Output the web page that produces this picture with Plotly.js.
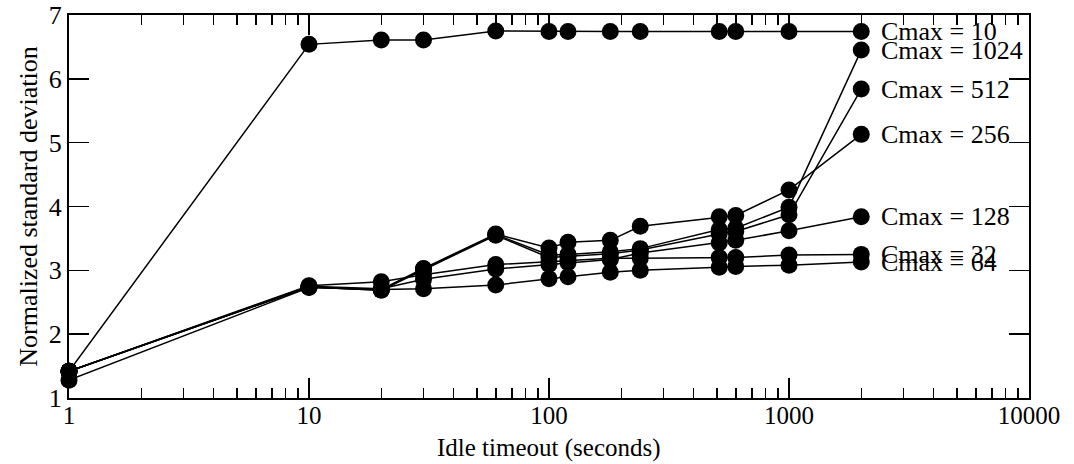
<!DOCTYPE html>
<html>
<head>
<meta charset="utf-8">
<script src="https://cdn.plot.ly/plotly-3.0.1.min.js"></script>
<style>html,body{margin:0;padding:0;background:#fff;}#chart{width:1074px;height:464px;}</style>
</head>
<body>
<div id="chart"></div>
<script>
// Idle timeout (seconds)
const idleTimeout = [1, 10, 20, 30, 60, 100, 120, 180, 240, 512, 600, 1000, 2000];

const seriesNames = ["Cmax = 10", "Cmax = 1024", "Cmax = 512", "Cmax = 256", "Cmax = 128", "Cmax = 32", "Cmax = 64"];

const cmax10   = [1.42, 6.54, 6.61, 6.61, 6.75, 6.74, 6.74, 6.74, 6.74, 6.74, 6.74, 6.74, 6.74];
const cmax1024 = [1.42, 2.74, 2.69, 3.02, 3.56, 3.24, 3.25, 3.29, 3.34, 3.64, 3.66, 3.99, 6.45];
const cmax512  = [1.42, 2.74, 2.69, 3.01, 3.55, 3.20, 3.22, 3.26, 3.32, 3.57, 3.61, 3.87, 5.84];
const cmax256  = [1.42, 2.74, 2.70, 3.03, 3.57, 3.35, 3.44, 3.47, 3.69, 3.84, 3.86, 4.26, 5.13];
const cmax128  = [1.42, 2.75, 2.71, 2.86, 3.02, 3.09, 3.12, 3.17, 3.27, 3.43, 3.47, 3.62, 3.84];
const cmax32   = [1.42, 2.76, 2.82, 2.93, 3.09, 3.14, 3.16, 3.19, 3.19, 3.20, 3.20, 3.24, 3.25];
const cmax64   = [1.28, 2.73, 2.70, 2.71, 2.77, 2.87, 2.90, 2.97, 3.00, 3.05, 3.06, 3.08, 3.13];

const seriesValues = [cmax10, cmax1024, cmax512, cmax256, cmax128, cmax32, cmax64];

const xTickVals = [1, 10, 100, 1000, 10000];
const xTickText = ["1", "10", "100", "1000", "10000"];
const yTickVals = [1, 2, 3, 4, 5, 6, 7];
const xTitle = "Idle timeout (seconds)";
const yTitle = "Normalized standard deviation";

const FONT = "'Liberation Serif', 'Times New Roman', serif";

const minorVals = [];
for (let d = 1; d < 10000; d *= 10) {
  for (let k = 2; k <= 9; k++) minorVals.push(d * k);
}

const traces = seriesValues.map((vals, i) => ({
  type: "scatter",
  mode: "lines+markers",
  x: idleTimeout,
  y: vals,
  name: seriesNames[i],
  line: {color: "#000", width: 1.5},
  marker: {color: "#000", size: 17, symbol: "circle"},
  showlegend: false,
  cliponaxis: false
}));

const annotations = seriesValues.map((vals, i) => ({
  x: Math.log10(idleTimeout[idleTimeout.length - 1]),
  y: vals[vals.length - 1],
  xref: "x",
  yref: "y",
  text: seriesNames[i],
  showarrow: false,
  xanchor: "left",
  yanchor: "middle",
  xshift: 18,
  font: {family: FONT, size: 26, color: "#000"}
}));

annotations.push({
  x: 0.5, y: 0, xref: "paper", yref: "paper",
  text: xTitle, showarrow: false,
  xanchor: "center", yanchor: "middle", yshift: -50,
  font: {family: FONT, size: 25, color: "#000"}
});

const layout = {
  width: 1074,
  height: 464,
  margin: {l: 69, r: 45, t: 15, b: 66},
  paper_bgcolor: "#fff",
  plot_bgcolor: "#fff",
  font: {family: FONT, size: 26, color: "#000"},
  showlegend: false,
  xaxis: {
    type: "log",
    range: [0, 4],
    tickmode: "array",
    tickvals: xTickVals,
    ticktext: xTickText,
    ticks: "inside",
    ticklen: 20,
    tickwidth: 1.5,
    tickcolor: "#000",
    showline: true,
    linecolor: "#000",
    linewidth: 2,
    mirror: "ticks",
    showgrid: false,
    zeroline: false,
    tickfont: {family: FONT, size: 25, color: "#000"},
    ticklabelstandoff: -6,
    minor: {
      tickmode: "array",
      tickvals: minorVals,
      ticks: "inside",
      ticklen: 10,
      tickwidth: 1.5,
      tickcolor: "#000",
      showgrid: false
    }
  },
  yaxis: {
    range: [1, 7],
    tickmode: "array",
    tickvals: yTickVals,
    ticks: "inside",
    ticklen: 20,
    tickwidth: 1.5,
    tickcolor: "#000",
    showline: true,
    linecolor: "#000",
    linewidth: 2,
    mirror: "ticks",
    showgrid: false,
    zeroline: false,
    tickfont: {family: FONT, size: 26, color: "#000"},
    title: {text: yTitle, font: {family: FONT, size: 26, color: "#000"}, standoff: 4}
  },
  annotations: annotations
};

Plotly.newPlot("chart", traces, layout, {displayModeBar: false, staticPlot: true});
</script>
</body>
</html>
